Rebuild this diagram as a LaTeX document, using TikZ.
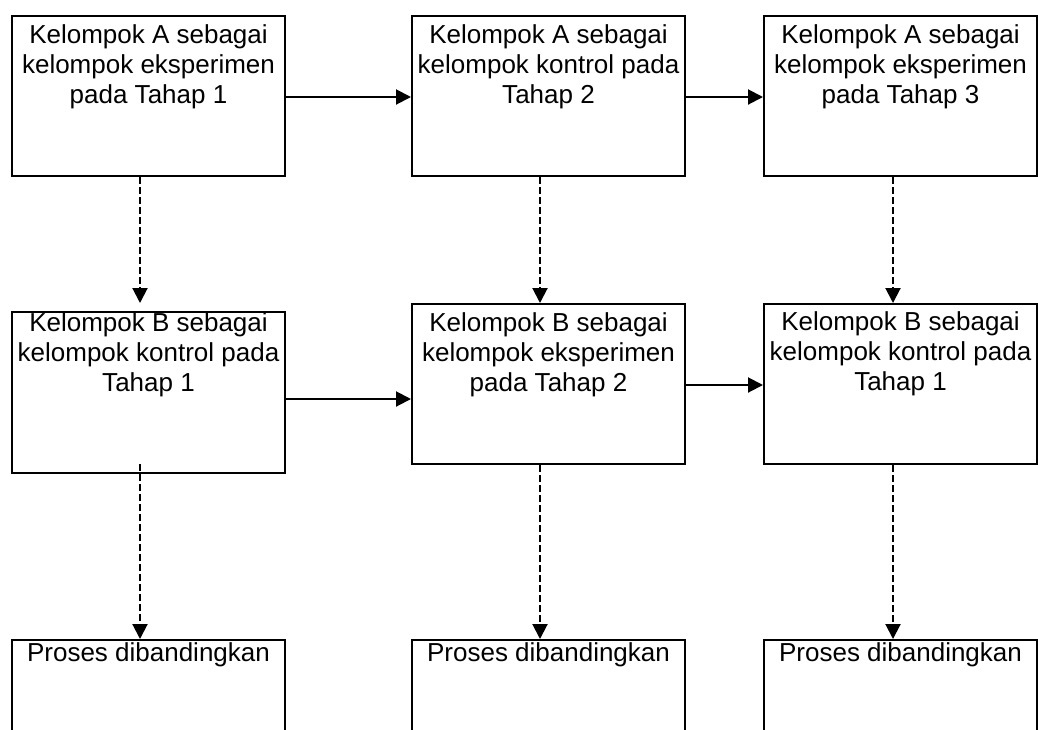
\documentclass[tikz,border=0pt]{standalone}
\usepackage{fontspec}
\setmainfont{Liberation Sans}
\usetikzlibrary{arrows.meta}
\tikzset{
  box/.style={draw, line width=2pt, inner sep=0pt, anchor=north west,
    font=\fontsize{26}{30}\selectfont},
  arr/.style={line width=2pt, -{Triangle[length=15pt,width=15pt]}},
  darr/.style={arr, dash pattern=on 7pt off 3pt},
}
\newcommand{\bx}[3]{\parbox[c][#1pt][t]{273pt}{\centering\vspace*{#2pt}#3\par}}
\begin{document}
\begin{tikzpicture}[x=1pt,y=-1pt]
\clip (0,0) rectangle (1038,729);
\fill[white] (0,0) rectangle (1038,729);
% row 1
\node[box] (A1) at (11,15) {\bx{160}{9}{Kelompok A sebagai\\kelompok eksperimen\\pada Tahap 1}};
\node[box] (A2) at (411,15) {\bx{160}{9}{Kelompok A sebagai\\kelompok kontrol pada\\Tahap 2}};
\node[box] (A3) at (763,15) {\bx{160}{9}{Kelompok A sebagai\\kelompok eksperimen\\pada Tahap 3}};
% row 2
\node[box] (B1) at (11,311) {\bx{161}{1}{Kelompok B sebagai\\kelompok kontrol pada\\Tahap 1}};
\node[box] (B2) at (411,303) {\bx{160}{9}{Kelompok B sebagai\\kelompok eksperimen\\pada Tahap 2}};
\node[box] (B3) at (763,303) {\bx{160}{8}{Kelompok B sebagai\\kelompok kontrol pada\\Tahap 1}};
% row 3
\node[box] (C1) at (11,639) {\bx{160}{3}{Proses dibandingkan}};
\node[box] (C2) at (411,639) {\bx{160}{3}{Proses dibandingkan}};
\node[box] (C3) at (763,639) {\bx{160}{3}{Proses dibandingkan}};
% horizontal arrows
\draw[arr] ([yshift=-1pt]A1.east) -- ([yshift=-1pt]A1.east -| A2.west);
\draw[arr] ([yshift=-1pt]A2.east) -- ([yshift=-1pt]A2.east -| A3.west);
\draw[arr] ([yshift=-6.5pt]B1.east) -- ([yshift=-6.5pt]B1.east -| B2.west);
\draw[arr] ([yshift=-1pt]B2.east) -- ([yshift=-1pt]B2.east -| B3.west);
% dashed arrows
\draw[darr, shorten >=8pt] ([xshift=-8.5pt]A1.south) -- ([xshift=-8.5pt]B1.north);
\draw[darr] ([xshift=-8.5pt]A2.south) -- ([xshift=-8.5pt]B2.north);
\draw[darr] ([xshift=-7.5pt]A3.south) -- ([xshift=-7.5pt]B3.north);
\draw[darr] ([xshift=-8.5pt,yshift=10pt]B1.south) -- ([xshift=-8.5pt]C1.north);
\draw[darr] ([xshift=-8.5pt]B2.south) -- ([xshift=-8.5pt]C2.north);
\draw[darr] ([xshift=-7.5pt]B3.south) -- ([xshift=-7.5pt]C3.north);
\end{tikzpicture}
\end{document}
